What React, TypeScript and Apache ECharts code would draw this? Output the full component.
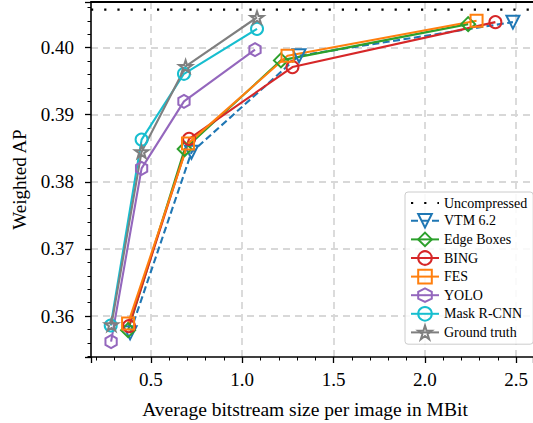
import React, { useEffect, useRef } from "react";
import * as echarts from "echarts";

// ---- data ----
const xExtent = [0.172, 2.592];
const yExtent = [0.3539, 0.4068];
const uncompressedAP = 0.40565;

const vtm62 = [[0.386, 0.3575], [0.722, 0.3844], [1.311, 0.3988], [2.482, 0.4038]];
const edgeBoxes = [[0.375, 0.3579], [0.685, 0.3849], [1.212, 0.3981], [2.237, 0.4035]];
const bing = [[0.38, 0.3585], [0.709, 0.3864], [1.275, 0.3971], [2.386, 0.4038]];
const fes = [[0.375, 0.3589], [0.703, 0.3857], [1.248, 0.3988], [2.283, 0.404]];
const yolo = [[0.282, 0.3562], [0.449, 0.382], [0.681, 0.392], [1.07, 0.3997]];
const maskRcnn = [[0.28, 0.3586], [0.449, 0.3863], [0.681, 0.3961], [1.081, 0.4028]];
const groundTruth = [[0.284, 0.3587], [0.449, 0.3845], [0.69, 0.3972], [1.081, 0.4045]];

const legendNames = ["Uncompressed", "VTM 6.2", "Edge Boxes", "BING", "FES", "YOLO", "Mask R-CNN", "Ground truth"];
const xTitle = "Average bitstream size per image in MBit";
const yTitle = "Weighted AP";

const FONT = "'Liberation Serif', 'Times New Roman', serif";

const HEX = "path://M0,-1 L0.866,-0.5 L0.866,0.5 L0,1 L-0.866,0.5 L-0.866,-0.5 Z";
const STAR =
  "path://M0,-1 L0.2245,-0.309 L0.951,-0.309 L0.363,0.118 L0.588,0.809 L0,0.382 L-0.588,0.809 L-0.363,0.118 L-0.951,-0.309 L-0.2245,-0.309 Z";

function mkSeries(name: string, data: number[][], color: string, symbol: string, size: number, opts: any = {}) {
  return {
    name,
    type: "line",
    data,
    symbol,
    symbolSize: size,
    symbolKeepAspect: true,
    symbolRotate: opts.rotate || 0,
    lineStyle: { color, width: 2.1, type: opts.dash ? [7, 3.5] : "solid" },
    itemStyle: { color: "transparent", borderColor: color, borderWidth: 2 },
    emphasis: { disabled: true },
    z: 2,
  };
}

export default function App() {
  const ref = useRef<HTMLDivElement>(null);
  useEffect(() => {
    const chart = echarts.init(ref.current!, null, { renderer: "svg" });
    const axisCommon = {
      type: "value",
      axisLine: { show: true, onZero: false, lineStyle: { color: "#000", width: 1.6 } },
      axisTick: { show: true, inside: false, length: 6, lineStyle: { color: "#000", width: 1.3 } },
      minorTick: { show: true, splitNumber: 5, length: 3.5, lineStyle: { color: "#000", width: 1 } },
      splitLine: {
        show: true,
        showMinLine: false,
        showMaxLine: false,
        lineStyle: { color: "#d8d8d8", width: 1.8, type: [7, 5] },
      },
    };
    chart.setOption({
      animation: false,
      grid: { left: 91, top: 2, right: -4, bottom: 66 },
      xAxis: [
        {
          ...axisCommon,
          min: xExtent[0],
          max: xExtent[1],
          minInterval: 0.5,
          maxInterval: 0.5,
          axisLabel: {
            fontFamily: FONT,
            fontSize: 19,
            color: "#000",
            margin: 13,
            showMinLabel: false,
            showMaxLabel: false,
            formatter: (v: number) => v.toFixed(1),
          },
        },
        {
          type: "value",
          position: "top",
          min: xExtent[0],
          max: xExtent[1],
          axisLine: { show: true, onZero: false, lineStyle: { color: "#000", width: 1.8 } },
          axisTick: { show: false },
          axisLabel: { show: false },
          splitLine: { show: false },
        },
      ],
      yAxis: {
        ...axisCommon,
        min: yExtent[0],
        max: yExtent[1],
        minInterval: 0.01,
        maxInterval: 0.01,
        name: yTitle,
        nameLocation: "middle",
        nameGap: 62,
        nameTextStyle: { fontFamily: FONT, fontSize: 19, color: "#000" },
        axisLabel: {
          fontFamily: FONT,
          fontSize: 19,
          color: "#000",
          margin: 17,
          showMinLabel: false,
          showMaxLabel: false,
          formatter: (v: number) => v.toFixed(2),
        },
      },
      graphic: [
        {
          type: "text",
          x: 305,
          y: 409,
          style: {
            text: xTitle,
            fontFamily: FONT,
            fontSize: 19.5,
            fill: "#000",
            align: "center",
            verticalAlign: "middle",
          },
        },
      ],
      legend: {
        orient: "vertical",
        left: 405,
        top: 192,
        padding: [4, 6, 4, 5],
        itemGap: 3,
        itemWidth: 28,
        itemHeight: 17,
        backgroundColor: "rgba(255,255,255,0.85)",
        borderColor: "#cccccc",
        borderWidth: 1,
        borderRadius: 3,
        textStyle: { fontFamily: FONT, fontSize: 14, color: "#000" },
        data: legendNames,
      },
      series: [
        {
          name: legendNames[0],
          type: "line",
          data: [[xExtent[0], uncompressedAP], [xExtent[1], uncompressedAP]],
          symbol: "circle",
          symbolSize: 1,
          showSymbol: false,
          lineStyle: { color: "#000", width: 2.2, type: [2.2, 11], cap: "butt" },
          itemStyle: { color: "transparent", borderColor: "transparent", borderWidth: 0, opacity: 0 },
          emphasis: { disabled: true },
        },
        mkSeries(legendNames[1], vtm62, "#1f77b4", "triangle", 13, { rotate: 180, dash: true }),
        mkSeries(legendNames[2], edgeBoxes, "#2ca02c", "diamond", 14),
        mkSeries(legendNames[3], bing, "#d62728", "circle", 12),
        mkSeries(legendNames[4], fes, "#ff7f0e", "rect", 12),
        mkSeries(legendNames[5], yolo, "#9467bd", HEX, 13),
        mkSeries(legendNames[6], maskRcnn, "#17becf", "circle", 12),
        mkSeries(legendNames[7], groundTruth, "#7f7f7f", STAR, 13),
      ],
    });
    return () => chart.dispose();
  }, []);
  return (
    <div
      ref={ref}
      style={{ position: "fixed", left: 0, top: 0, width: 533, height: 423, background: "#fff" }}
    />
  );
}
